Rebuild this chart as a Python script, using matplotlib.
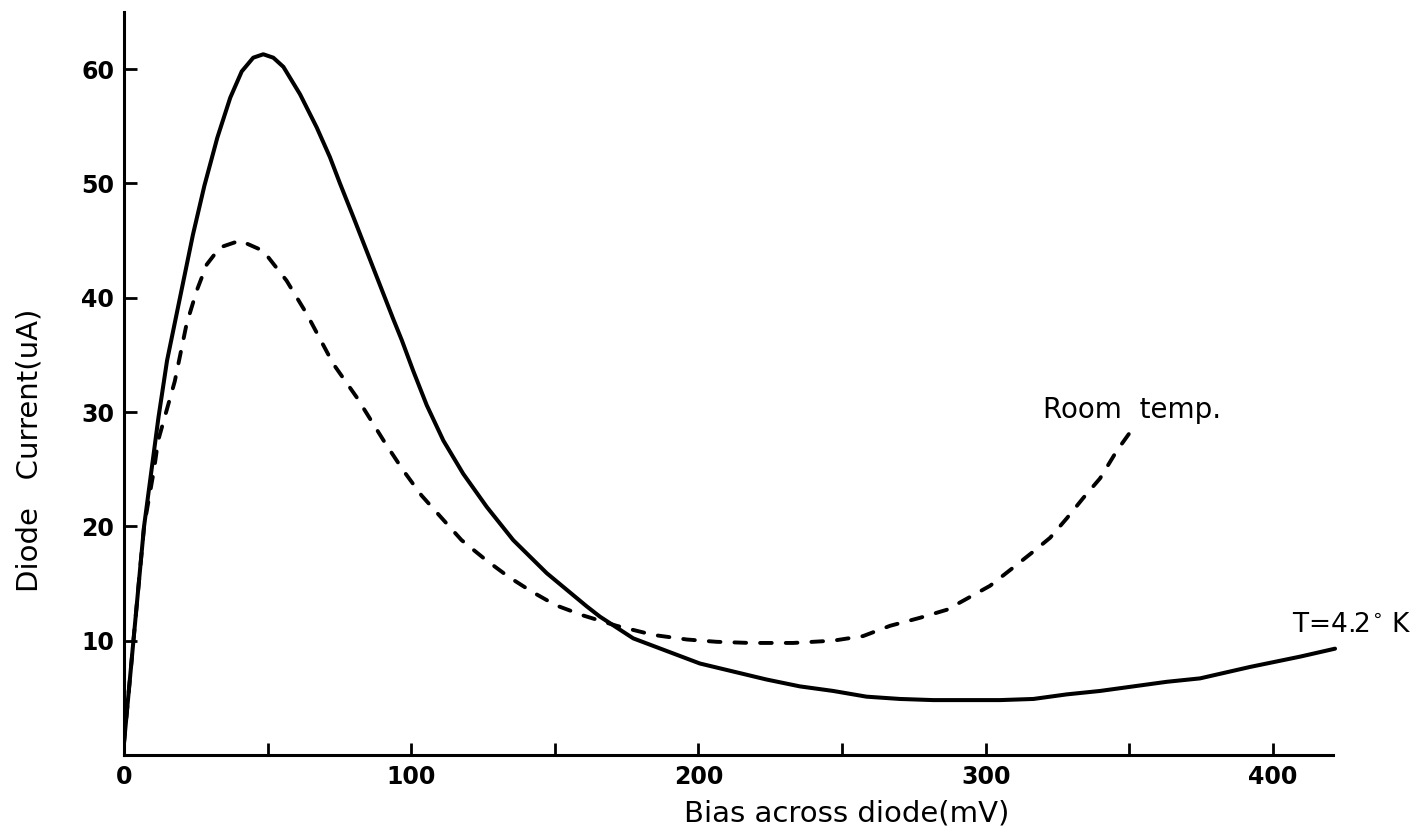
import matplotlib
matplotlib.use("Agg")
import matplotlib.pyplot as plt

# T = 4.2 K curve (solid)
cold_bias = [0, 3.3, 7, 12, 15, 19.5, 24, 28, 32.5, 37, 41, 45, 48.5, 52,
             55.5, 61.3, 67.1, 71.7, 75.2, 79.8, 84, 86.8, 93.8, 96.7,
             100.7, 105.4, 111.2, 118.1, 126.3, 135.5, 147.2, 161.1, 165.7,
             177.3, 188.9, 200.5, 212.1, 223.7, 235.3, 246.9, 258.5, 270.1,
             281.7, 293.4, 305, 316.6, 328.2, 339.8, 351.4, 363, 374.6, 392,
             409.4, 421.6]
cold_current = [1, 10, 20, 29.5, 34.5, 40, 45.5, 49.8, 54, 57.5, 59.8, 61,
                61.3, 61, 60.2, 57.8, 54.9, 52.3, 50.0, 47.1, 44.4, 42.6,
                38.1, 36.3, 33.6, 30.6, 27.5, 24.6, 21.7, 18.8, 15.9, 13.0,
                12.1, 10.2, 9.1, 8.0, 7.3, 6.6, 6.0, 5.6, 5.1, 4.9, 4.8,
                4.8, 4.8, 4.9, 5.3, 5.6, 6.0, 6.4, 6.7, 7.7, 8.6, 9.3]

# room temperature curve (dashed)
room_bias = [0, 3.3, 7, 10.5, 11.9, 17.7, 21.8, 25.3, 28.8, 33.4, 40.4,
             48.5, 56.6, 63.6, 72.9, 81, 90.9, 97.2, 103.6, 110, 117.5,
             125.8, 133.8, 141.9, 150.3, 159.9, 171.5, 184.3, 196, 206.3,
             217.9, 233, 246.9, 257.3, 266.7, 277.1, 286.4, 292.2, 301.5,
             309.6, 316.6, 322.4, 328.2, 334, 339.8, 345.6, 351.3]
room_current = [1, 10, 20, 25, 27.5, 32.7, 37.7, 40.6, 42.9, 44.4, 45.0,
                44.1, 41.5, 38.6, 34.2, 31.3, 27.3, 24.9, 22.7, 20.9, 18.8,
                17.1, 15.6, 14.3, 13.1, 12.2, 11.3, 10.5, 10.1, 9.9, 9.8,
                9.8, 10.0, 10.4, 11.3, 12.0, 12.7, 13.5, 14.8, 16.4, 17.8,
                19.0, 20.7, 22.5, 24.2, 26.6, 28.6]

x_major = [0, 100, 200, 300, 400]
x_minor = [50, 150, 250, 350]
y_ticks = [10, 20, 30, 40, 50, 60]

fig = plt.figure(figsize=(14.15, 8.26), dpi=100)
ax = fig.add_axes([0.0876, 0.086, 0.8628, 0.8995])

ax.plot(cold_bias, cold_current, color='black', lw=2.9,
        solid_capstyle='round', solid_joinstyle='round')
ax.plot(room_bias, room_current, color='black', lw=2.8,
        linestyle=(0, (3.0, 3.6)), dash_capstyle='round')

ax.set_xlim(0, 425)
ax.set_ylim(0, 65)

for s in ['top', 'right']:
    ax.spines[s].set_visible(False)
ax.spines['bottom'].set_bounds(0, 421)
ax.spines['left'].set_linewidth(2.2)
ax.spines['bottom'].set_linewidth(2.2)

ax.set_xticks(x_major)
ax.set_xticks(x_minor, minor=True)
ax.set_yticks(y_ticks)
ax.tick_params(axis='both', which='both', direction='in', length=9,
               width=2, labelsize=17, pad=7)
for lab in ax.get_xticklabels() + ax.get_yticklabels():
    lab.set_fontweight('bold')

ax.set_xlabel('Bias across diode(mV)', fontsize=21)
ax.xaxis.set_label_coords(0.592, -0.06)
ax.set_ylabel('Diode   Current(uA)', fontsize=21)
ax.yaxis.set_label_coords(-0.066, 0.41)

ax.text(320, 30.2, 'Room  temp.', fontsize=20, ha='left', va='center')
ax.text(406.6, 11.4, r'T=4.2$^{\circ}$ K', fontsize=19, ha='left', va='center')

fig.savefig('out.png', dpi=100)
